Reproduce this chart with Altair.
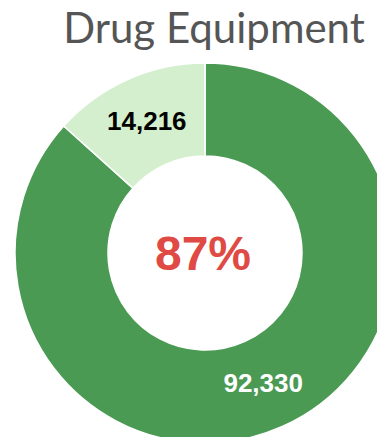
import altair as alt
import pandas as pd

categories = ["Not returned", "Returned"]
values = [92330, 14216]
labels = ["92,330", "14,216"]
colors = ["#4A9A54", "#D4EFCD"]
label_colors = ["white", "black"]
title_text = "Drug Equipment"
center_text = "87%"

df = pd.DataFrame({
    "category": categories,
    "value": values,
    "label": labels,
    "idx": list(range(len(categories))),
    "lc": label_colors,
})

CX, CY = 197, 245

base = alt.Chart(df).encode(
    theta=alt.Theta("value:Q", stack=True),
    order=alt.Order("idx:Q"),
)

arcs = base.mark_arc(outerRadius=190, innerRadius=97, stroke="white", strokeWidth=1.5).encode(
    x=alt.value(CX), y=alt.value(CY),
    color=alt.Color("category:N", scale=alt.Scale(domain=categories, range=colors), legend=None),
)

text = base.mark_text(radius=143, font="Liberation Sans", fontWeight="bold", fontSize=26,
                      align="center", baseline="middle").encode(
    x=alt.value(CX), y=alt.value(CY),
    text="label:N",
    color=alt.Color("lc:N", scale=None),
)

center = alt.Chart(pd.DataFrame({"t": [center_text]})).mark_text(
    font="Liberation Sans", fontWeight="bold", fontSize=48, color="#E04A44",
    align="center", baseline="alphabetic").encode(
    x=alt.value(CX - 2), y=alt.value(CY + 17), text="t:N")

title = alt.Chart(pd.DataFrame({"t": [title_text]})).mark_text(
    font="Lato", fontSize=42, color="#555555",
    align="center", baseline="alphabetic").encode(
    x=alt.value(206), y=alt.value(35), text="t:N")

chart = alt.layer(arcs, text, center, title).properties(
    width=369, height=429, autosize=alt.AutoSizeParams(type="none"), padding=0
).configure_view(stroke=None)

chart.save("out.html", embed_options={"renderer": "svg", "actions": False})
